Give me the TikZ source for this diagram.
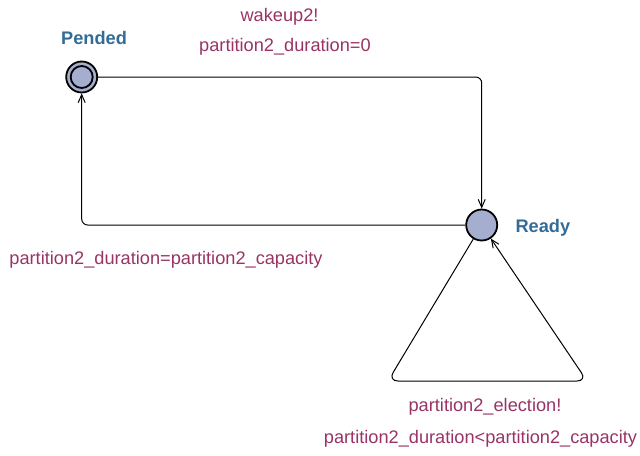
\documentclass[tikz,border=0pt]{standalone}
\usepackage{fontspec}
\setmainfont{Liberation Sans}
\usepackage{tikz}
\usetikzlibrary{arrows.meta,positioning}
\definecolor{LocFill}{HTML}{A6AECF}
\definecolor{LocName}{HTML}{336C96}
\definecolor{EdgeLabel}{HTML}{993366}
\tikzset{
    location/.style={circle, draw, line width=0.9pt, fill=LocFill, minimum size=15.5pt, inner sep=0pt},
    locname/.style={text=LocName, font=\fontsize{9.1}{11}\selectfont\bfseries, inner sep=0pt},
    edgelabel/.style={text=EdgeLabel, font=\fontsize{9.1}{11}\selectfont, inner sep=0pt},
    trans/.style={draw, line width=0.5pt, rounded corners=3, -{Straight Barb[length=4pt,width=3.5pt]}}
}

\begin{document}
\begin{tikzpicture}[x=0.5pt, y=-0.5pt]
        \useasboundingbox (0,0) rectangle (640,455);

        % locations
        \node[location] (pended) at (81.7,77) {};
        \draw[line width=0.9pt] (pended.center) circle (5.5pt);
        \node[location] (ready) at (481.7,225) {};
        \node[locname] (pendedname) at (94,38) {Pended};
        \node[locname, right=8.5pt of ready, yshift=-1.5pt] (readyname) {Ready};

        % Pended -> Ready
        \coordinate (c1) at (481.7,77);
        \draw[trans] (pended) -- (c1) -- (ready);
        \node[edgelabel] (sync1) at (279.5,17) {wakeup2!};
        \node[edgelabel] (upd1) at (285,47) {partition2\_duration=0};

        % Ready -> Pended
        \coordinate (c2) at (81.7,225);
        \draw[trans] (ready) -- (c2) -- (pended);
        \node[edgelabel] (upd2) at (166,260) {partition2\_duration=partition2\_capacity};

        % Ready -> Ready
        \coordinate (c3) at (388,381);
        \coordinate (c4) at (587,381);
        \draw[trans, rounded corners=5] (ready) -- (c3) -- (c4) -- (ready);
        \node[edgelabel] (sync3) at (485,407) {partition2\_election!};
        \node[edgelabel] (guard3) at (480.5,439) {partition2\_duration<partition2\_capacity};
    \end{tikzpicture}
\end{document}
